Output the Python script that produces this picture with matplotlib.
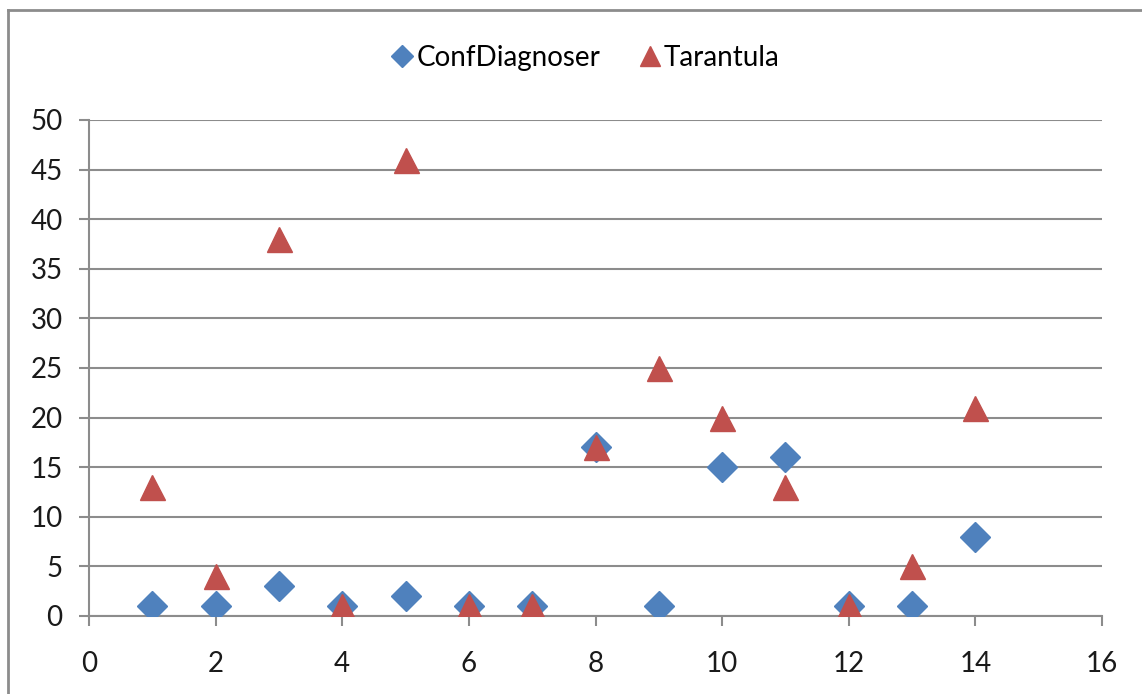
import matplotlib.pyplot as plt
from matplotlib.lines import Line2D

x_vals = [1, 2, 3, 4, 5, 6, 7, 8, 9, 10, 11, 12, 13, 14]
conf_diagnoser = [1, 1, 3, 1, 2, 1, 1, 17, 1, 15, 16, 1, 1, 8]
tarantula = [13, 4, 38, 1, 46, 1, 1, 17, 25, 20, 13, 1, 5, 21]

plt.rcParams['font.family'] = ['Lato', 'DejaVu Sans']

fig = plt.figure(figsize=(11.42, 6.94), dpi=100)
ax = fig.add_axes([89 / 1142, 1 - 616 / 694, (1102 - 89) / 1142, (616 - 120) / 694])

ax.plot(x_vals, conf_diagnoser, 'D', color='#4F81BD', markersize=15.5, linestyle='none',
        label='ConfDiagnoser', zorder=3)
ax.plot(x_vals, tarantula, '^', color='#C0504D', markersize=18, linestyle='none',
        label='Tarantula', zorder=4)

ax.set_xlim(0, 16)
ax.set_ylim(0, 50)
ax.set_xticks(range(0, 17, 2))
ax.set_yticks(range(0, 51, 5))
ax.yaxis.grid(True, color='#8C8C8C', linewidth=1.5)
ax.set_axisbelow(True)
for s in ['top', 'right']:
    ax.spines[s].set_visible(False)
for s in ['left', 'bottom']:
    ax.spines[s].set_color('#8C8C8C')
    ax.spines[s].set_linewidth(1.5)
ax.tick_params(axis='both', colors='#8C8C8C', width=1.5, length=7, labelsize=20,
               labelcolor='#1a1a1a')
ax.tick_params(axis='x', pad=18)
ax.tick_params(axis='y', pad=12)

handles = [
    Line2D([], [], marker='D', color='#4F81BD', linestyle='none', markersize=11),
    Line2D([], [], marker='^', color='#C0504D', linestyle='none', markersize=15),
]
fig.legend(handles, ['ConfDiagnoser', 'Tarantula'], loc='center',
           bbox_to_anchor=(584 / 1142, 1 - 58 / 694), ncol=2, frameon=False,
           fontsize=20, handletextpad=0.0, columnspacing=1.3, handlelength=1.0)

# chart border
fig.add_artist(plt.Line2D([8 / 1142, 8 / 1142], [0, 1 - 10 / 694], color='#8C8C8C',
                          linewidth=2, transform=fig.transFigure))
fig.add_artist(plt.Line2D([8 / 1142, 1], [1 - 10 / 694, 1 - 10 / 694], color='#8C8C8C',
                          linewidth=2, transform=fig.transFigure))

fig.savefig('out.png', dpi=100)
